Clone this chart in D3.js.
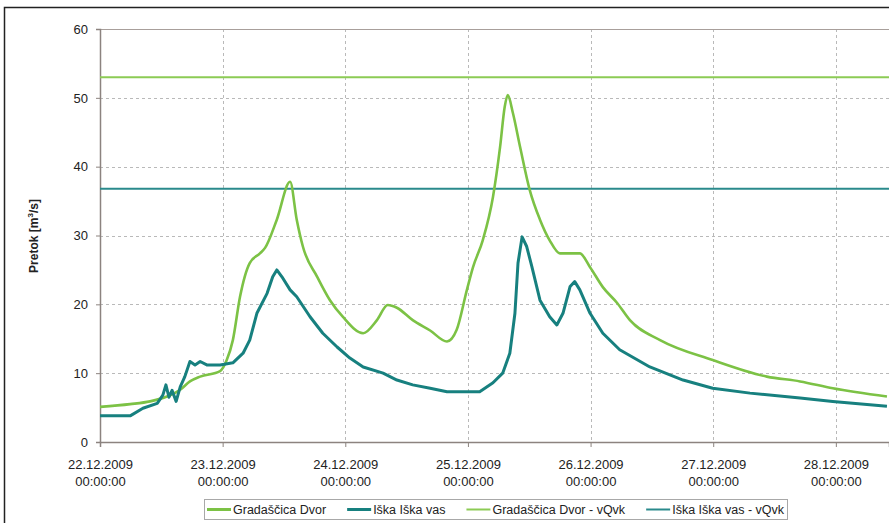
<!DOCTYPE html>
<html>
<head>
<meta charset="utf-8">
<script src="https://cdn.jsdelivr.net/npm/d3@7"></script>
<style>
  body { margin: 0; background: #fff; }
  svg { display: block; font-family: "Liberation Sans", Arial, sans-serif; }
</style>
</head>
<body>
<svg id="chart" width="889" height="523"></svg>
<script>
// hours since 22.12.2009 00:00
var gradHours = [0, 5.9, 9.8, 13.1, 15.7, 17.6, 19.6, 23.5, 24.8, 26.0, 27.4, 29.3, 31.3, 32.3, 34.6, 37.2, 38.5, 39.7, 42.5, 45.0, 47.5, 51.5, 54.2, 56.3, 58.1, 61.2, 64.6, 67.9, 69.8, 71.8, 73.0, 74.9, 76.9, 78.3, 79.2, 79.8, 80.8, 82.2, 84.1, 86.1, 88.0, 90.0, 93.9, 95.9, 98.4, 101.2, 103.7, 109.6, 119.9, 130.5, 137.0, 143.4, 154.0];
var gradFlow = [5.1, 5.5, 5.9, 6.6, 7.6, 8.8, 9.5, 10.3, 11.9, 14.8, 21.1, 26.0, 27.4, 28.2, 32.3, 37.8, 32.3, 28.4, 24.0, 20.6, 18.2, 15.8, 17.7, 19.9, 19.5, 17.7, 16.2, 14.6, 16.3, 22.1, 25.4, 29.3, 35.6, 42.9, 48.7, 50.4, 47.8, 42.9, 36.6, 32.3, 29.3, 27.4, 27.4, 25.4, 22.5, 20.2, 17.7, 14.8, 11.9, 9.5, 8.8, 7.8, 6.6];

var iskaHours = [0, 5.9, 8.4, 11.2, 12.3, 12.9, 13.5, 14.1, 14.9, 15.7, 16.6, 17.6, 18.6, 19.6, 20.9, 23.5, 26.0, 28.0, 29.3, 30.7, 32.7, 33.8, 34.6, 35.6, 37.2, 38.5, 41.1, 43.6, 46.4, 48.9, 51.5, 55.4, 58.1, 61.2, 64.6, 67.9, 74.3, 76.9, 78.8, 80.2, 81.2, 81.8, 82.6, 83.5, 84.5, 86.1, 88.0, 89.4, 90.6, 92.0, 92.9, 93.9, 95.9, 98.4, 101.7, 107.6, 114.1, 119.9, 127.2, 137.0, 143.4, 154.0];
var iskaFlow = [3.8, 3.8, 4.9, 5.6, 6.8, 8.3, 6.5, 7.5, 5.9, 8.0, 9.5, 11.7, 11.2, 11.7, 11.2, 11.2, 11.5, 12.9, 14.8, 18.7, 21.6, 24.0, 25.0, 24.0, 22.1, 21.1, 18.2, 15.8, 13.8, 12.2, 10.9, 10.0, 9.0, 8.3, 7.8, 7.3, 7.3, 8.6, 10.0, 12.9, 18.7, 26.0, 29.8, 28.4, 25.5, 20.6, 18.2, 17.0, 18.7, 22.6, 23.3, 22.1, 18.7, 15.8, 13.4, 10.9, 9.0, 7.8, 7.1, 6.4, 5.9, 5.2];

var gradVQvk = 53.0;
var iskaVQvk = 36.8;

var yTicks = [0, 10, 20, 30, 40, 50, 60];
var dayTicks = ["2009-12-22", "2009-12-23", "2009-12-24", "2009-12-25", "2009-12-26", "2009-12-27", "2009-12-28"];
var legendNames = ["Gradaščica Dvor", "Iška Iška vas", "Gradaščica Dvor - vQvk", "Iška Iška vas - vQvk"];

var GREEN = "#7cc245", TEAL = "#17807f", GREEN_L = "#8ccb55", TEAL_L = "#2a8a8c";

var start = Date.UTC(2009, 11, 22, 0, 0);
function hoursToDate(h) { return new Date(start + h * 3600 * 1000); }

var plotL = 100, plotR = 889, plotT = 29, plotB = 442;

var svg = d3.select("#chart");

// outer frame
svg.append("path")
    .attr("d", "M4.5,523 L4.5,7.5 L889,7.5")
    .attr("fill", "none")
    .attr("stroke", "#222")
    .attr("stroke-width", 1.5);

var x = d3.scaleUtc()
    .domain([hoursToDate(0), hoursToDate(154.4)])
    .range([plotL, plotR]);
var y = d3.scaleLinear().domain([0, 60]).range([plotB, plotT]);

svg.append("clipPath").attr("id", "plotclip")
    .append("rect").attr("x", plotL).attr("y", plotT - 2).attr("width", plotR - plotL).attr("height", plotB - plotT + 2);

var tickDates = dayTicks.map(function(s) { return new Date(s + "T00:00:00Z"); });

// grid
var grid = svg.append("g").attr("stroke", "#b9b9b9").attr("stroke-dasharray", "3,3").attr("stroke-width", 1);
yTicks.filter(function(v) { return v > 0 && v < 60; }).forEach(function(v) {
    grid.append("line").attr("x1", plotL).attr("x2", plotR)
        .attr("y1", Math.round(y(v)) + 0.5).attr("y2", Math.round(y(v)) + 0.5);
});
tickDates.slice(1).forEach(function(d) {
    grid.append("line").attr("x1", Math.round(x(d)) + 0.5).attr("x2", Math.round(x(d)) + 0.5)
        .attr("y1", plotT).attr("y2", plotB);
});

// top border of plot
svg.append("line").attr("x1", plotL).attr("x2", plotR).attr("y1", plotT + 0.5).attr("y2", plotT + 0.5)
    .attr("stroke", "#a89f9b").attr("stroke-width", 1);

// axes
var fmtDate = d3.utcFormat("%d.%m.%Y");
var fmtTime = d3.utcFormat("%H:%M:%S");

var xAxis = svg.append("g")
    .attr("transform", "translate(0," + plotB + ")")
    .call(d3.axisBottom(x).tickValues(tickDates).tickSize(5).tickFormat(""));
xAxis.select(".domain").attr("stroke", "#8c837f").attr("stroke-width", 1.5);
xAxis.selectAll(".tick line").attr("stroke", "#8c837f");
xAxis.selectAll(".tick").each(function(d) {
    var t = d3.select(this).append("text")
        .attr("fill", "#222").attr("font-size", 13).attr("text-anchor", "middle");
    t.append("tspan").attr("x", 0).attr("y", 27).text(fmtDate(d));
    t.append("tspan").attr("x", 0).attr("y", 44).text(fmtTime(d));
});

var yAxis = svg.append("g")
    .attr("transform", "translate(" + plotL + ",0)")
    .call(d3.axisLeft(y).tickValues(yTicks).tickSize(4).tickPadding(8));
yAxis.select(".domain").attr("stroke", "#8c837f").attr("stroke-width", 1.5);
yAxis.selectAll(".tick line").attr("stroke", "#8c837f");
yAxis.selectAll(".tick text").attr("fill", "#222").attr("font-size", 13).attr("font-family", "Liberation Sans, Arial, sans-serif");

// axis title
var yl = svg.append("text")
    .attr("transform", "translate(38,236) rotate(-90)")
    .attr("text-anchor", "middle")
    .attr("font-size", 12).attr("font-weight", "bold").attr("fill", "#222");
yl.append("tspan").text("Pretok [m");
yl.append("tspan").attr("font-size", 8).attr("dy", -5).text("3");
yl.append("tspan").attr("dy", 5).text("/s]");

// series
var plot = svg.append("g").attr("clip-path", "url(#plotclip)");
var line = d3.line()
    .x(function(d) { return x(hoursToDate(d[0])); })
    .y(function(d) { return y(d[1]); });

plot.append("line").attr("x1", plotL).attr("x2", plotR)
    .attr("y1", y(gradVQvk)).attr("y2", y(gradVQvk))
    .attr("stroke", GREEN_L).attr("stroke-width", 2);
plot.append("line").attr("x1", plotL).attr("x2", plotR)
    .attr("y1", y(iskaVQvk)).attr("y2", y(iskaVQvk))
    .attr("stroke", TEAL_L).attr("stroke-width", 2);

plot.append("path")
    .datum(d3.zip(gradHours, gradFlow))
    .attr("d", line.curve(d3.curveMonotoneX))
    .attr("fill", "none").attr("stroke", GREEN).attr("stroke-width", 2.6)
    .attr("stroke-linejoin", "round");

plot.append("path")
    .datum(d3.zip(iskaHours, iskaFlow))
    .attr("d", line.curve(d3.curveLinear))
    .attr("fill", "none").attr("stroke", TEAL).attr("stroke-width", 3)
    .attr("stroke-linejoin", "round");

// legend: box fixed at 204..787, items spread evenly inside
var boxX = 204, boxW = 583, boxY = 499, boxH = 20;
var legend = svg.append("g");
legend.append("rect")
    .attr("x", boxX + 0.5).attr("y", boxY + 0.5).attr("width", boxW).attr("height", boxH)
    .attr("fill", "#fff").attr("stroke", "#a8a8a8").attr("stroke-width", 1);
var legColors = [GREEN, TEAL, GREEN_L, TEAL_L];
var legWidths = [3, 3, 2, 2];
var items = legendNames.map(function(name, i) {
    var g = legend.append("g");
    g.append("line")
        .attr("x1", 0).attr("x2", 24).attr("y1", 0).attr("y2", 0)
        .attr("stroke", legColors[i]).attr("stroke-width", legWidths[i]);
    var t = g.append("text")
        .attr("x", 26).attr("y", 4.5)
        .attr("font-size", 12.5).attr("fill", "#222")
        .text(name);
    return { g: g, w: 26 + t.node().getComputedTextLength() };
});
var used = d3.sum(items, function(d) { return d.w; });
var gap = (boxW - 6 - used) / (items.length - 1);
var cx = boxX + 3;
items.forEach(function(it) {
    it.g.attr("transform", "translate(" + cx + "," + (boxY + boxH / 2 + 0.5) + ")");
    cx += it.w + gap;
});
</script>
</body>
</html>
